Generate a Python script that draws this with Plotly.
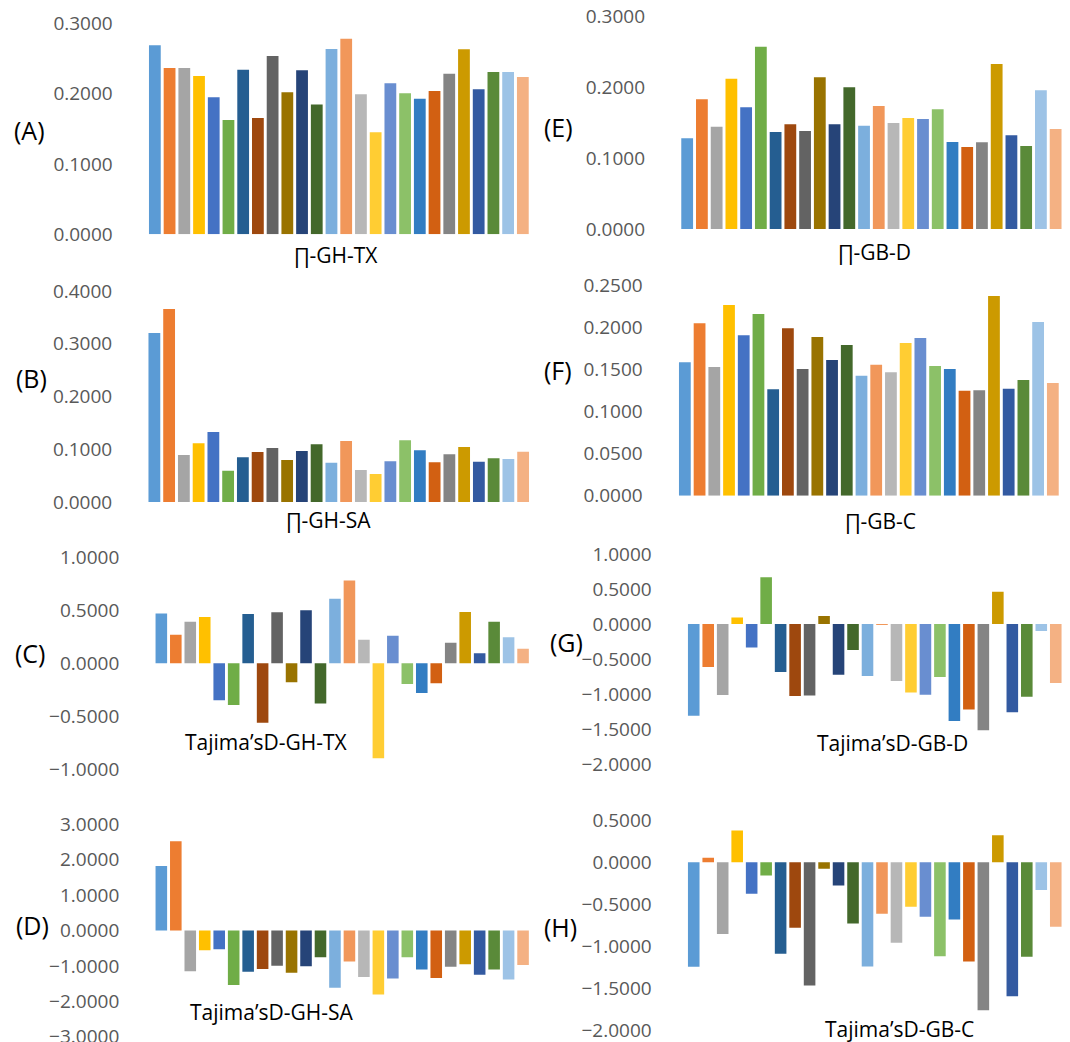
import plotly.graph_objects as go

# 26 samples per panel (x categories, unlabeled)
samples = [f"S{i}" for i in range(1, 27)]

# Nucleotide diversity (pi)
pi_gh_tx = [0.2687, 0.2365, 0.2365, 0.2251, 0.1948, 0.1626, 0.2341, 0.1654, 0.2536, 0.2019,
            0.2332, 0.1844, 0.2635, 0.2782, 0.1991, 0.1450, 0.2147, 0.2005, 0.1929, 0.2038,
            0.2284, 0.2630, 0.2062, 0.2308, 0.2308, 0.2237]
pi_gh_sa = [0.3205, 0.3660, 0.0891, 0.1113, 0.1327, 0.0594, 0.0847, 0.0948, 0.1024, 0.0796,
            0.0967, 0.1094, 0.0746, 0.1157, 0.0607, 0.0531, 0.0771, 0.1169, 0.0980, 0.0752,
            0.0904, 0.1043, 0.0765, 0.0828, 0.0815, 0.0954]
pi_gb_d = [0.1281, 0.1832, 0.1446, 0.2124, 0.1719, 0.2577, 0.1371, 0.1479, 0.1385, 0.2143,
           0.1479, 0.2002, 0.1460, 0.1738, 0.1498, 0.1569, 0.1554, 0.1691, 0.1229, 0.1159,
           0.1225, 0.2332, 0.1324, 0.1173, 0.1960, 0.1413]
pi_gb_c = [0.1582, 0.2045, 0.1527, 0.2263, 0.1903, 0.2156, 0.1262, 0.1986, 0.1503, 0.1883,
           0.1610, 0.1788, 0.1424, 0.1555, 0.1464, 0.1812, 0.1871, 0.1539, 0.1503, 0.1246,
           0.1250, 0.2369, 0.1270, 0.1373, 0.2061, 0.1337]

# Tajima's D
tajd_gh_tx = [0.469, 0.270, 0.393, 0.437, -0.349, -0.393, 0.465, -0.560, 0.481, -0.179,
              0.500, -0.380, 0.610, 0.780, 0.223, -0.896, 0.261, -0.195, -0.280, -0.189,
              0.195, 0.484, 0.094, 0.393, 0.245, 0.138]
tajd_gh_sa = [1.825, 2.521, -1.148, -0.555, -0.527, -1.543, -1.167, -1.091, -0.997, -1.195,
              -1.007, -0.753, -1.618, -0.875, -1.317, -1.806, -1.355, -0.753, -1.101, -1.345,
              -1.025, -0.950, -1.251, -1.101, -1.383, -0.978]
tajd_gb_d = [-1.307, -0.613, -1.012, 0.095, -0.333, 0.670, -0.684, -1.027, -1.017, 0.114,
             -0.722, -0.371, -0.741, -0.010, -0.813, -0.974, -1.008, -0.756, -1.383, -1.217,
             -1.516, 0.461, -1.259, -1.036, -0.100, -0.841]
tajd_gb_c = [-1.242, 0.051, -0.854, 0.376, -0.376, -0.158, -1.088, -0.779, -1.464, -0.079,
             -0.277, -0.728, -1.238, -0.613, -0.957, -0.530, -0.649, -1.116, -0.680, -1.179,
             -1.756, 0.320, -1.590, -1.123, -0.332, -0.767]

# Office-style series colours, one per sample
palette = ["#5B9BD5", "#ED7D31", "#A5A5A5", "#FFC000", "#4472C4", "#70AD47",
           "#255E91", "#9E480E", "#636363", "#997300", "#264478", "#43682B",
           "#7CAFDD", "#F1975A", "#B7B7B7", "#FFCD33", "#698ED0", "#8CC168",
           "#327DC2", "#D26012", "#848484", "#CC9A00", "#335AA1", "#5A8A39",
           "#9DC3E6", "#F4B183"]

W, H = 1070, 1042
FONT = "Open Sans"

# Panel layout in pixels: plot box (left, right, top, bottom), title centre, letter centre
panels = [
    dict(v=pi_gh_tx, letter="(A)", title="∏-GH-TX", yr=(0, 0.3), dt=0.1,
         box=(147.5, 530.2, 23.3, 234.3), tc=(336, 255), lc=(29, 130)),
    dict(v=pi_gb_d, letter="(E)", title="∏-GB-D", yr=(0, 0.3), dt=0.1,
         box=(679.8, 1063.0, 16.7, 229.0), tc=(874, 252), lc=(558, 127)),
    dict(v=pi_gh_sa, letter="(B)", title="∏-GH-SA", yr=(0, 0.4), dt=0.1,
         box=(147.0, 530.5, 291.0, 502.0), tc=(328, 520), lc=(31, 378)),
    dict(v=pi_gb_c, letter="(F)", title="∏-GB-C", yr=(0, 0.25), dt=0.05,
         box=(677.5, 1060.2, 285.0, 495.7), tc=(880, 521), lc=(558, 370)),
    dict(v=tajd_gh_tx, letter="(C)", title="Tajima’sD-GH-TX", yr=(-1, 1), dt=0.5,
         box=(154.1, 530.3, 557.3, 769.3), tc=(266, 742), lc=(30, 653)),
    dict(v=tajd_gb_d, letter="(G)", title="Tajima’sD-GB-D", yr=(-2, 1), dt=0.5,
         box=(686.5, 1063.0, 554.0, 764.3), tc=(892, 743), lc=(566, 642)),
    dict(v=tajd_gh_sa, letter="(D)", title="Tajima’sD-GH-SA", yr=(-3, 3), dt=1,
         box=(154.1, 530.3, 824.3, 1036.7), tc=(272, 1012), lc=(32, 925)),
    dict(v=tajd_gb_c, letter="(H)", title="Tajima’sD-GB-C", yr=(-2, 0.5), dt=0.5,
         box=(686.5, 1063.0, 820.0, 1030.7), tc=(899, 1029), lc=(560, 927)),
]

fig = go.Figure()
annotations = []
layout = {}

for i, p in enumerate(panels, start=1):
    sfx = "" if i == 1 else str(i)
    fig.add_trace(go.Bar(
        x=samples, y=p["v"], marker=dict(color=palette, line=dict(width=0)),
        xaxis="x" + sfx, yaxis="y" + sfx, showlegend=False,
    ))
    l, r, t, b = p["box"]
    layout["xaxis" + sfx] = dict(
        domain=[l / W, r / W], anchor="y" + sfx, type="category",
        range=[-0.5, len(samples) - 0.5], showticklabels=False, ticks="",
        showgrid=False, zeroline=False, showline=False, fixedrange=True,
        automargin=False,
    )
    layout["yaxis" + sfx] = dict(
        domain=[1 - b / H, 1 - t / H], anchor="x" + sfx,
        range=list(p["yr"]), dtick=p["dt"], tick0=0, tickformat=".4f",
        ticks="outside", ticklen=30, tickcolor="rgba(0,0,0,0)",
        tickfont=dict(family=FONT, size=19, color="#595959"),
        ticklabeloverflow="allow",
        showgrid=False, zeroline=False, showline=False, fixedrange=True,
        automargin=False,
    )
    annotations.append(dict(
        text=p["title"], xref="paper", yref="paper",
        x=p["tc"][0] / W, y=1 - p["tc"][1] / H, xanchor="center", yanchor="middle",
        showarrow=False, font=dict(family=FONT, size=21, color="#000000"),
    ))
    annotations.append(dict(
        text=p["letter"], xref="paper", yref="paper",
        x=p["lc"][0] / W, y=1 - p["lc"][1] / H, xanchor="center", yanchor="middle",
        showarrow=False, font=dict(family=FONT, size=25, color="#000000"),
    ))

fig.update_layout(
    width=W, height=H, margin=dict(l=0, r=0, t=0, b=0, autoexpand=False),
    paper_bgcolor="white", plot_bgcolor="white",
    bargap=0.2, annotations=annotations, **layout,
)

fig.write_html("out.html", config={"displayModeBar": False})
